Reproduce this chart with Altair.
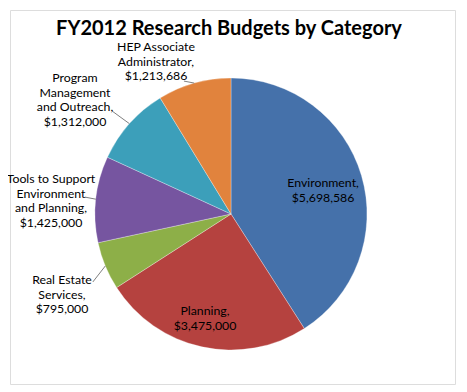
import altair as alt
import numpy as np
import pandas as pd

# ---- data ----
categories = [
    "Environment",
    "Planning",
    "Real Estate Services",
    "Tools to Support Environment and Planning",
    "Program Management and Outreach",
    "HEP Associate Administrator",
]
budgets = [5698586, 3475000, 795000, 1425000, 1312000, 1213686]
label_lines = [
    ["Environment,", "$5,698,586"],
    ["Planning,", "$3,475,000"],
    ["Real Estate", "Services,", "$795,000"],
    ["Tools to Support", "Environment", "and Planning,", "$1,425,000"],
    ["Program", "Management", "and Outreach,", "$1,312,000"],
    ["HEP Associate", "Administrator,", "$1,213,686"],
]
colors = ["#4571AA", "#B5423F", "#8DAF48", "#7655A0", "#3C9FBA", "#E1833D"]

# ---- layout (not data) ----
PAD = 2
W, H = 447 - PAD, 376 - PAD
CX, CY, R = 223 - PAD, 206 - PAD, 136
# position of each label's first line: degrees clockwise from 12, and radius
label_angle = [71.4, 195.0, 248.7, 281.0, 311.1, 335.8]
label_radius = [97.1, 100.4, 181.4, 183.4, 207, 183]
# leader lines: outer end (angle, radius) for slices that have one
leader_end = {2: (243.8, 154), 3: (276.6, 147), 4: (310.9, 157), 5: (340.5, 141)}

df = pd.DataFrame({"category": categories, "value": budgets, "order": range(len(categories))})
total = float(sum(budgets))
cum = np.cumsum(budgets) / total * 360.0
mid = cum - np.array(budgets) / total * 360.0 / 2

lab = pd.DataFrame({
    "category": categories,
    "text": label_lines,
    "ang": label_angle,
    "rad": label_radius,
})

lead_rows = []
for i, (ea, er) in leader_end.items():
    a0 = np.deg2rad(mid[i])
    a1 = np.deg2rad(ea)
    lead_rows.append({
        "x": CX + R * np.sin(a0), "y": CY - R * np.cos(a0),
        "x2": CX + er * np.sin(a1), "y2": CY - er * np.cos(a1),
    })
leads = pd.DataFrame(lead_rows)

FONT = "Lato"

pie = alt.Chart(df).mark_arc(stroke="#ffffff", strokeWidth=0.3, outerRadius=R).encode(
    theta=alt.Theta("value:Q", stack=True),
    color=alt.Color("category:N", scale=alt.Scale(domain=categories, range=colors), legend=None),
    order=alt.Order("order:Q"),
    x=alt.value(CX),
    y=alt.value(CY),
)

labels = alt.Chart(lab).mark_text(
    font=FONT, fontSize=12.3, color="#000000", align="center", baseline="middle", lineHeight=14.7
).encode(
    theta=alt.Theta("ang:Q", scale=alt.Scale(domain=[0, 360]), stack=None),
    radius=alt.Radius("rad:Q", scale=None),
    text="text",
    x=alt.value(CX),
    y=alt.value(CY),
)

leaders = alt.Chart(leads).mark_rule(color="#808080", strokeWidth=1).encode(
    x=alt.X("x:Q", scale=None),
    y=alt.Y("y:Q", scale=None),
    x2="x2:Q",
    y2="y2:Q",
)

title = alt.Chart(pd.DataFrame({"t": ["FY2012 Research Budgets by Category"]})).mark_text(
    font=FONT, fontSize=20, fontWeight="bold", color="#000000", align="center", baseline="middle"
).encode(text="t:N", x=alt.value(221 - PAD), y=alt.value(21 - PAD))

chart = alt.layer(pie, leaders, labels, title).resolve_scale(
    theta="independent"
).properties(
    width=W, height=H, padding=PAD, autosize=alt.AutoSizeParams(type="none")
).configure_view(stroke="#8c8c8c", strokeWidth=1.5).configure(background="#ffffff")

chart.save("out.html", embed_options={"renderer": "svg", "actions": False})
